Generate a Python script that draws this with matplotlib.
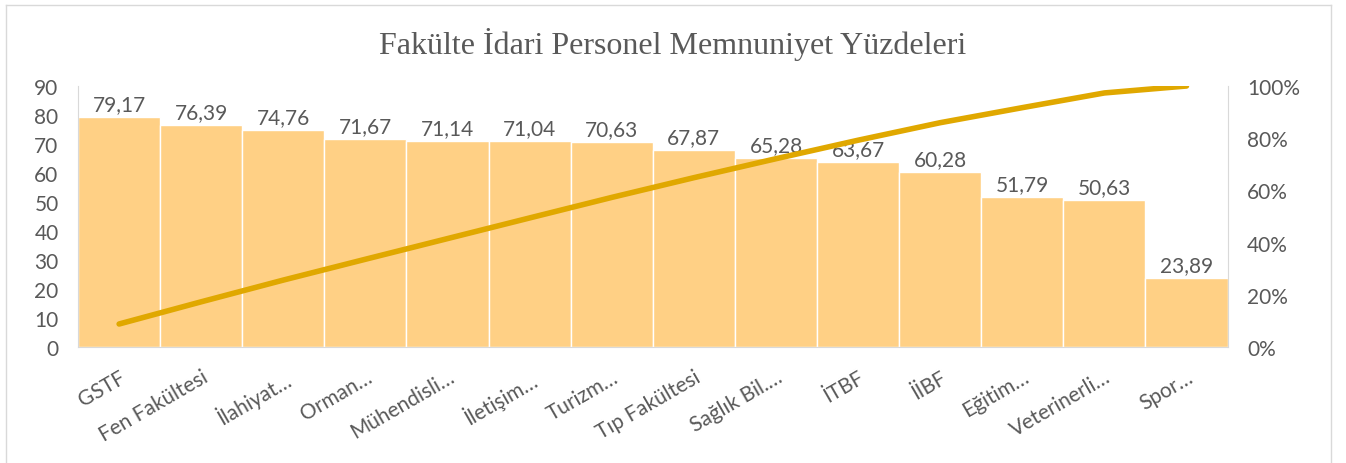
import numpy as np
import matplotlib
matplotlib.use("Agg")
import matplotlib.pyplot as plt
from matplotlib.lines import Line2D
from matplotlib.ticker import FuncFormatter

# faculty names (truncated as in the chart) and satisfaction percentages
faculties = ["GSTF", "Fen Fakültesi", "İlahiyat…", "Orman…", "Mühendisli…",
             "İletişim…", "Turizm…", "Tıp Fakültesi", "Sağlık Bil.…", "İTBF",
             "İİBF", "Eğitim…", "Veterinerli…", "Spor…"]
scores = [79.17, 76.39, 74.76, 71.67, 71.14, 71.04, 70.63, 67.87, 65.28,
          63.67, 60.28, 51.79, 50.63, 23.89]

bar_color = "#FFD085"
line_color = "#E0A800"
text_color = "#595959"

plt.rcParams['font.family'] = ['Lato', 'DejaVu Sans']

fig = plt.figure(figsize=(13.46, 4.64), dpi=100)
ax = fig.add_axes([0.058, 0.25, 0.854, 0.5625])

x = np.arange(len(scores))
ax.bar(x, scores, width=1.0, color=bar_color, edgecolor="white", linewidth=1)
for xi, v in zip(x, scores):
    ax.text(xi, v + 1.0, f"{v:.2f}".replace(".", ","), ha="center", va="bottom",
            fontsize=15, color=text_color)

ax.set_xlim(-0.5, len(scores) - 0.5)
ax.set_ylim(0, 90)
ax.set_yticks(range(0, 91, 10))
ax.set_xticks(x)
ax.set_xticklabels(faculties, rotation=30, ha="right", rotation_mode="anchor",
                   fontsize=15, color=text_color)
ax.tick_params(axis="both", length=0, labelsize=15, labelcolor=text_color)
ax.tick_params(axis="x", pad=14)
ax.tick_params(axis="y", pad=14)
for s in ["top", "right"]:
    ax.spines[s].set_visible(False)
ax.spines["left"].set_color("#D9D9D9")
ax.spines["bottom"].set_color("#D9D9D9")

# cumulative share (Pareto line)
cum = np.cumsum(scores) / np.sum(scores)
ax2 = ax.twinx()
ax2.plot(x, cum, color=line_color, linewidth=4, solid_capstyle="round")
ax2.set_ylim(0, 1)
ax2.set_yticks(np.arange(0, 1.01, 0.2))
ax2.yaxis.set_major_formatter(FuncFormatter(lambda v, p: f"{v*100:.0f}%"))
ax2.tick_params(axis="y", length=0, labelsize=15, labelcolor=text_color, pad=14)
for s in ["top", "left", "bottom"]:
    ax2.spines[s].set_visible(False)
ax2.spines["right"].set_color("#D9D9D9")

fig.text(0.5, 0.905, "Fakülte İdari Personel Memnuniyet Yüzdeleri",
         ha="center", va="center", fontsize=23, color=text_color,
         family=["Liberation Serif", "DejaVu Serif"])

# chart frame
for coords in [([0.0045, 0.0045], [0, 0.987]), ([0.0045, 0.989], [0.987, 0.987]),
               ([0.989, 0.989], [0, 0.987])]:
    fig.add_artist(Line2D(coords[0], coords[1], color="#D9D9D9", linewidth=1))

fig.savefig("out.png", dpi=100)
